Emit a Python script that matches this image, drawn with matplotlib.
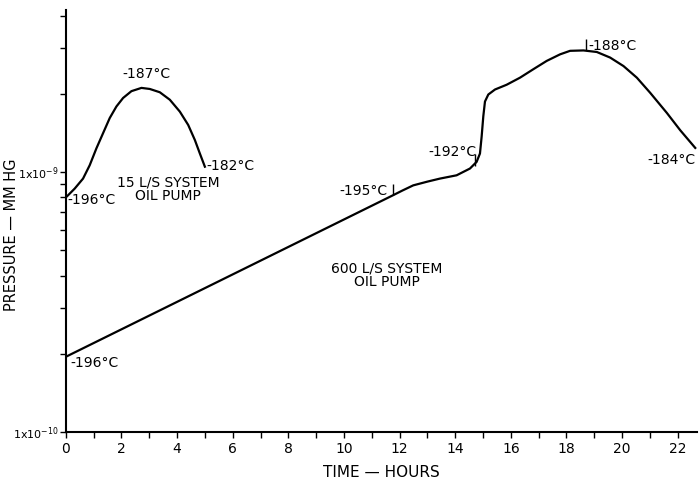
import matplotlib
matplotlib.use("Agg")
import matplotlib.pyplot as plt
from matplotlib.ticker import FixedLocator, FuncFormatter, NullFormatter

# 15 L/S system oil pump
t_small = [0.0, 0.08, 0.32, 0.62, 0.86, 1.10, 1.34, 1.58, 1.82, 2.06, 2.36, 2.72, 3.02,
           3.38, 3.74, 4.10, 4.40, 4.64, 4.82, 5.0]
p_small = [8.0e-10, 8.15e-10, 8.65e-10, 9.45e-10, 1.064e-9, 1.235e-9, 1.413e-9, 1.616e-9,
           1.79e-9, 1.93e-9, 2.05e-9, 2.11e-9, 2.09e-9, 2.03e-9, 1.90e-9, 1.71e-9,
           1.52e-9, 1.33e-9, 1.18e-9, 1.05e-9]

# 600 L/S system oil pump
t_big = [0.0, 11.76, 12.1, 12.49, 13.0, 13.45, 14.05, 14.53, 14.77, 14.89, 14.95, 15.01,
         15.07, 15.19, 15.43, 15.85, 16.33, 16.81, 17.29, 17.77, 18.13, 18.61, 19.09,
         19.57, 20.05, 20.53, 21.01, 21.61, 22.09, 22.63]
p_big = [1.95e-10, 8.15e-10, 8.5e-10, 8.9e-10, 9.2e-10, 9.45e-10, 9.73e-10, 1.033e-9,
         1.096e-9, 1.18e-9, 1.37e-9, 1.64e-9, 1.87e-9, 1.99e-9, 2.08e-9, 2.17e-9,
         2.31e-9, 2.49e-9, 2.68e-9, 2.84e-9, 2.93e-9, 2.94e-9, 2.90e-9, 2.76e-9,
         2.56e-9, 2.31e-9, 2.02e-9, 1.69e-9, 1.45e-9, 1.24e-9]

# temperature marks on the 600 L/S curve
mark_t = [11.76, 14.70, 18.70]
mark_p = [8.15e-10, 1.06e-9, 2.94e-9]

# temperature labels: (text, t, p, ha)
temp_labels = [
    ("-196°C", 0.07, 7.8e-10, "left"),
    ("-187°C", 2.9, 2.38e-9, "center"),
    ("-182°C", 5.07, 1.06e-9, "left"),
    ("-196°C", 0.15, 1.84e-10, "left"),
    ("-195°C", 11.58, 8.44e-10, "right"),
    ("-192°C", 14.78, 1.20e-9, "right"),
    ("-188°C", 18.8, 3.05e-9, "left"),
    ("-184°C", 20.9, 1.11e-9, "left"),
]
system_labels = [
    ("15 L/S SYSTEM\nOIL PUMP", 3.67, 8.6e-10),
    ("600 L/S SYSTEM\nOIL PUMP", 11.55, 4.02e-10),
]

x_major = list(range(0, 23, 2))
x_minor = list(range(1, 23, 2))
y_major = [1e-10, 1e-9]
y_minor = [2e-10, 3e-10, 4e-10, 5e-10, 6e-10, 7e-10, 8e-10, 9e-10, 2e-9, 3e-9, 4e-9]
y_labels = {1e-10: "1x10$^{-10}$", 1e-9: "1x10$^{-9}$"}

plt.rcParams['font.family'] = ['DejaVu Sans']
fig = plt.figure(figsize=(7, 4.84), dpi=100)
ax = fig.add_axes([0.094, 0.107, 0.902, 0.872])

ax.plot(t_small, p_small, color="black", lw=1.6, solid_joinstyle="round")
ax.plot(t_big, p_big, color="black", lw=1.6, solid_joinstyle="round")
for t, p in zip(mark_t, mark_p):
    ax.vlines(t, p, p * 10 ** 0.045, color="black", lw=1.0)

for txt, t, p, ha in temp_labels:
    ax.text(t, p, txt, ha=ha, va="center", fontsize=10)
for txt, t, p in system_labels:
    ax.text(t, p, txt, ha="center", va="center", fontsize=10, linespacing=1.0)

ax.set_yscale("log")
ax.set_xlim(0, 22.7)
ax.set_ylim(1e-10, 4.2e-9)

ax.xaxis.set_major_locator(FixedLocator(x_major))
ax.xaxis.set_minor_locator(FixedLocator(x_minor))
ax.yaxis.set_major_locator(FixedLocator(y_major))
ax.yaxis.set_minor_locator(FixedLocator(y_minor))
ax.yaxis.set_major_formatter(FuncFormatter(lambda v, pos: y_labels.get(v, "")))
ax.yaxis.set_minor_formatter(NullFormatter())

ax.tick_params(axis="both", which="both", direction="out", length=4, width=1.0,
               labelsize=10, pad=3)
ax.tick_params(axis="y", which="major", labelsize=8, pad=1)

for s in ["top", "right"]:
    ax.spines[s].set_visible(False)
for s in ["left", "bottom"]:
    ax.spines[s].set_linewidth(1.5)

ax.set_xlabel("TIME — HOURS", fontsize=11)
ax.set_ylabel("PRESSURE — MM HG", fontsize=10.5)
ax.xaxis.set_label_coords(0.5, -0.078)
ax.yaxis.set_label_coords(-0.074, 0.467)

fig.savefig("out.png", dpi=100)
